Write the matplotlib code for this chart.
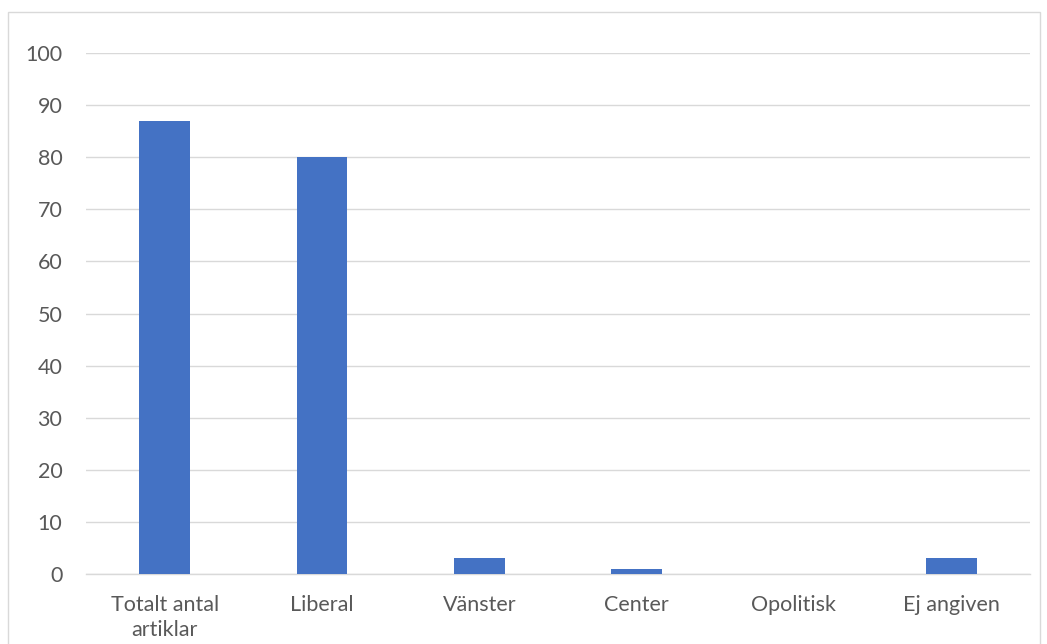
import matplotlib
matplotlib.use("Agg")
import matplotlib.pyplot as plt
from matplotlib.patches import Rectangle

categories = ["Totalt antal\nartiklar", "Liberal", "Vänster", "Center", "Opolitisk", "Ej angiven"]
values = [87, 80, 3, 1, 0, 3]
y_ticks = [0, 10, 20, 30, 40, 50, 60, 70, 80, 90, 100]

BAR = "#4472C4"
GRID = "#D9D9D9"
TEXT = "#595959"

plt.rcParams["font.family"] = ["Lato", "DejaVu Sans"]

fig = plt.figure(figsize=(10.47, 6.44), dpi=100)
W, H = 1047, 644

# chart-area frame
fig.patches.append(Rectangle((8 / W, -0.01), (1040 - 8) / W, (H - 12) / H + 0.01,
                             transform=fig.transFigure, fill=False,
                             edgecolor=GRID, linewidth=1.0))

ax = fig.add_axes([86 / W, 70 / H, (1030 - 86) / W, (574 - 53) / H])
x = list(range(len(categories)))
ax.bar(x, values, width=0.32, color=BAR, zorder=3)

ax.set_xlim(-0.5, len(categories) - 0.5)
ax.set_ylim(0, 100)
ax.set_yticks(y_ticks)
ax.set_xticks(x)
ax.set_xticklabels(categories, linespacing=1.3)
ax.yaxis.grid(True, color=GRID, linewidth=1.0, zorder=0)
ax.set_axisbelow(True)

for side in ("top", "right", "left"):
    ax.spines[side].set_visible(False)
ax.spines["bottom"].set_color(GRID)
ax.spines["bottom"].set_linewidth(1.0)

ax.tick_params(axis="both", length=0, labelsize=15.5, labelcolor=TEXT)
ax.tick_params(axis="y", pad=17)
ax.tick_params(axis="x", pad=15)

fig.savefig("out.png", dpi=100, facecolor="white")
